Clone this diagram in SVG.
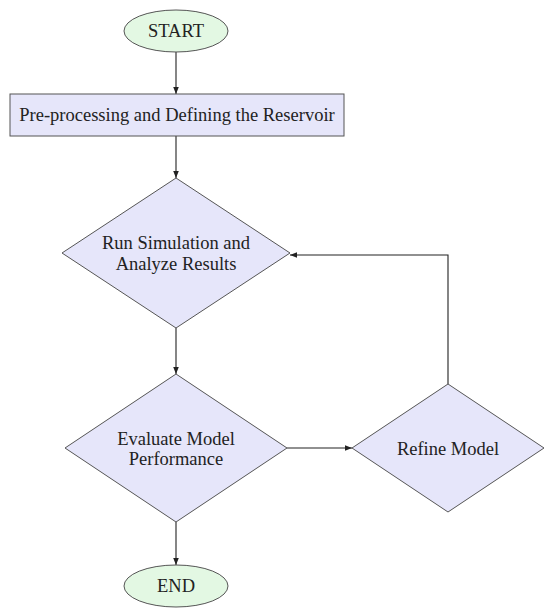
<svg xmlns="http://www.w3.org/2000/svg" width="550" height="614" viewBox="0 0 550 614">
<style>
.term{fill:#e3f8e3;stroke:#555;stroke-width:1}
.proc{fill:#e6e6fa;stroke:#555;stroke-width:1}
.t{font-family:"Liberation Serif",serif;font-size:18.5px;fill:#222;text-anchor:middle;dominant-baseline:central}
.c{fill:none;stroke:#222;stroke-width:1.1}
</style>
<defs>
<marker id="a" viewBox="0 0 10 10" refX="10" refY="5" markerWidth="7" markerHeight="7" orient="auto" markerUnits="userSpaceOnUse"><path d="M0,1 L10,5 L0,9 Z" fill="#222"/></marker>
</defs>
<rect width="550" height="614" fill="#fff"/>
<g id="connectors">
<path class="c" d="M176,52 L176,94" marker-end="url(#a)"/>
<path class="c" d="M176,136 L176,178" marker-end="url(#a)"/>
<path class="c" d="M176,328 L176,374" marker-end="url(#a)"/>
<path class="c" d="M287,448 L352,448" marker-end="url(#a)"/>
<path class="c" d="M448,384 L448,255 L290,255" marker-end="url(#a)"/>
<path class="c" d="M176,522 L176,565" marker-end="url(#a)"/>
</g>
<g id="start"><ellipse class="term" cx="176" cy="31" rx="52" ry="21"/><text class="t" x="176" y="31">START</text></g>
<g id="preprocess"><rect class="proc" x="10" y="94" width="334" height="42"/><text class="t" x="177" y="115">Pre-processing and Defining the Reservoir</text></g>
<g id="simulate"><polygon class="proc" points="176,178 290,253 176,328 62,253"/><text class="t" x="176" y="243">Run Simulation and</text><text class="t" x="176" y="264">Analyze Results</text></g>
<g id="evaluate"><polygon class="proc" points="176,374 287,448 176,522 65,448"/><text class="t" x="176" y="439">Evaluate Model</text><text class="t" x="176" y="459">Performance</text></g>
<g id="refine"><polygon class="proc" points="448,384 544,448 448,512 352,448"/><text class="t" x="448" y="449">Refine Model</text></g>
<g id="end"><ellipse class="term" cx="176" cy="586" rx="52" ry="21"/><text class="t" x="176" y="586">END</text></g>
</svg>
